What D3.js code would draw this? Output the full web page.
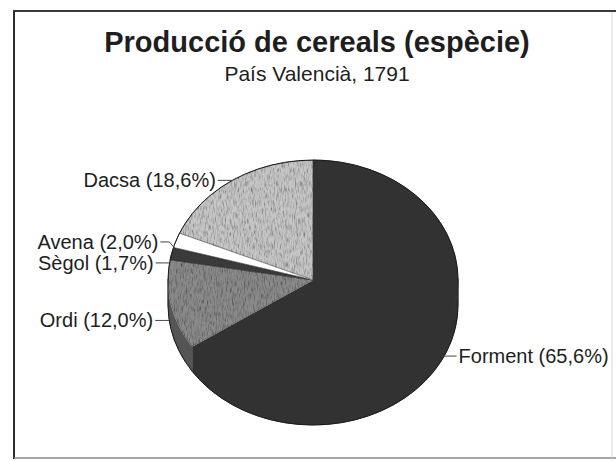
<!DOCTYPE html>
<html>
<head>
<meta charset="utf-8">
<script src="https://cdn.jsdelivr.net/npm/d3@7"></script>
<style>
  html, body { margin: 0; padding: 0; background: #fff; }
  svg { display: block; }
</style>
</head>
<body>
<div id="chart"></div>
<script>
// ==== data ====
const categories = ["Forment", "Ordi", "Sègol", "Avena", "Dacsa"];
const shares     = [65.6, 12.0, 1.7, 2.0, 18.6];
const titleText    = "Producció de cereals (espècie)";
const subtitleText = "País Valencià, 1791";

// ==== styles ====
const topFill   = ["#323232", "#8a8a8a", "#3a3a3a", "#ffffff", "#c6c6c6"];
const sideFill  = ["#323232", "#555555", "#2f2f2f", "#dddddd", "#9a9a9a"];
const textured  = [false, true, false, false, true];

const W = 616, H = 461;
const cx = 313, cy = 280, rx = 145, ry = 120, depth = 25;

const svg = d3.select("#chart")
  .append("svg")
    .attr("width", W)
    .attr("height", H);

// speckle texture like the scanned print
const defs = svg.append("defs");
function speckle(id, slope, intercept, seed) {
  const f = defs.append("filter").attr("id", id)
    .attr("x", 0).attr("y", 0).attr("width", 1).attr("height", 1);
  f.append("feTurbulence")
    .attr("type", "fractalNoise")
    .attr("baseFrequency", "1.1 0.16")
    .attr("numOctaves", 2)
    .attr("seed", seed)
    .attr("result", "noise");
  f.append("feColorMatrix")
    .attr("in", "noise")
    .attr("type", "matrix")
    .attr("values", "0.33 0.33 0.33 0 0 0.33 0.33 0.33 0 0 0.33 0.33 0.33 0 0 0 0 0 0 1")
    .attr("result", "gray");
  const ct = f.append("feComponentTransfer").attr("in", "gray").attr("result", "contrast");
  ["feFuncR", "feFuncG", "feFuncB"].forEach(fn =>
    ct.append(fn).attr("type", "linear").attr("slope", slope).attr("intercept", intercept));
  f.append("feBlend").attr("in", "SourceGraphic").attr("in2", "contrast")
    .attr("mode", "multiply").attr("result", "blend");
  f.append("feComposite").attr("in", "blend").attr("in2", "SourceGraphic").attr("operator", "in");
}
speckle("speckle0", 2.4, -0.3, 4);

// ==== frame ====
const frame = svg.append("g");
frame.append("line").attr("x1", 13).attr("y1", 11).attr("x2", 616).attr("y2", 11)
  .attr("stroke", "#3a3a3a").attr("stroke-width", 2);
frame.append("line").attr("x1", 14).attr("y1", 11).attr("x2", 14).attr("y2", 459)
  .attr("stroke", "#2e2e2e").attr("stroke-width", 2);
frame.append("line").attr("x1", 14).attr("y1", 458).attr("x2", 616).attr("y2", 458)
  .attr("stroke", "#8a8a8a").attr("stroke-width", 1.5);
frame.append("line").attr("x1", 612).attr("y1", 12).attr("x2", 612).attr("y2", 458)
  .attr("stroke", "#d8d8d8").attr("stroke-width", 1);

// ==== titles ====
svg.append("text")
  .attr("x", 317).attr("y", 52)
  .attr("text-anchor", "middle")
  .attr("font-family", "'Liberation Sans', Arial, sans-serif")
  .attr("font-weight", "bold")
  .attr("font-size", 29)
  .attr("fill", "#1e1e1e")
  .text(titleText);

svg.append("text")
  .attr("x", 317).attr("y", 81)
  .attr("text-anchor", "middle")
  .attr("font-family", "'Liberation Sans', Arial, sans-serif")
  .attr("font-size", 21)
  .attr("fill", "#1e1e1e")
  .text(subtitleText);

// ==== pie ====
const data = categories.map((c, i) => ({ name: c, value: shares[i], i }));
const pie = d3.pie().value(d => d.value).sort(null);
const arcs = pie(data);

// point on the top ellipse at d3 pie angle (0 = top, clockwise)
const pt = (a, dy = 0) => [cx + rx * Math.sin(a), cy - ry * Math.cos(a) + dy];

// 3D side: only the front half (angles between PI/2 and 3PI/2) is visible
const sides = svg.append("g");
arcs.forEach(a => {
  const s = Math.max(a.startAngle, Math.PI / 2);
  const e = Math.min(a.endAngle, Math.PI * 1.5);
  if (e <= s) return;
  const p0 = pt(s, -1), p1 = pt(e, -1), p2 = pt(e, depth), p3 = pt(s, depth);
  const path = `M${p0} A${rx},${ry} 0 0 1 ${p1} L${p2} A${rx},${ry} 0 0 0 ${p3} Z`;
  sides.append("path")
    .attr("d", path)
    .attr("fill", sideFill[a.data.i])
    .attr("stroke", sideFill[a.data.i])
    .attr("stroke-width", 0.6);
});

// top faces
const faces = svg.append("g");
arcs.forEach(a => {
  const p0 = pt(a.startAngle), p1 = pt(a.endAngle);
  const large = (a.endAngle - a.startAngle) > Math.PI ? 1 : 0;
  const path = `M${cx},${cy} L${p0} A${rx},${ry} 0 ${large} 1 ${p1} Z`;
  faces.append("path")
    .attr("d", path)
    .attr("fill", topFill[a.data.i])
    .attr("stroke", a.data.i === 0 ? topFill[0] : "#2a2a2a")
    .attr("stroke-width", 0.6)
    .attr("filter", textured[a.data.i] ? "url(#speckle0)" : null);
});

// silhouette outline (top arc + lower side arc)
const silhouette = `M${pt(-Math.PI / 2)} A${rx},${ry} 0 0 1 ${pt(Math.PI / 2)} ` +
  `L${pt(Math.PI / 2, depth)} A${rx},${ry} 0 0 1 ${pt(Math.PI * 1.5, depth)} Z`;
svg.append("path")
  .attr("d", silhouette)
  .attr("fill", "none")
  .attr("stroke", "#1a1a1a")
  .attr("stroke-width", 1);

// ==== labels ====
const fmt = v => v.toFixed(1).replace(".", ",");
const cyL = cy + depth / 2, RY = ry + depth / 2 + 2, RX = rx + 2;
const labels = arcs.map(a => {
  const m = (a.startAngle + a.endAngle) / 2;
  const ax = cx + RX * Math.sin(m);
  const ay = cyL - RY * Math.cos(m);
  return {
    text: `${a.data.name} (${fmt(a.data.value)}%)`,
    ax, ay, ly: ay,
    dir: Math.sin(m) >= 0 ? 1 : -1
  };
});

// keep left-side labels from overlapping (push the upper one up)
const gap = 21;
const left = labels.filter(l => l.dir < 0).sort((a, b) => b.ly - a.ly);
for (let k = 1; k < left.length; k++) {
  if (left[k - 1].ly - left[k].ly < gap) left[k].ly = left[k - 1].ly - gap;
}

const lg = svg.append("g");
labels.forEach(l => {
  const line = d3.line();
  lg.append("path")
    .attr("d", line([[l.ax, l.ay], [l.ax + l.dir * 5, l.ly], [l.ax + l.dir * 14, l.ly]]))
    .attr("fill", "none")
    .attr("stroke", "#444")
    .attr("stroke-width", 1);
  lg.append("text")
    .attr("x", l.ax + l.dir * 16)
    .attr("y", l.ly)
    .attr("dy", "0.35em")
    .attr("text-anchor", l.dir > 0 ? "start" : "end")
    .attr("font-family", "'Liberation Sans', Arial, sans-serif")
    .attr("font-size", 20)
    .attr("fill", "#1e1e1e")
    .text(l.text);
});
</script>
</body>
</html>
